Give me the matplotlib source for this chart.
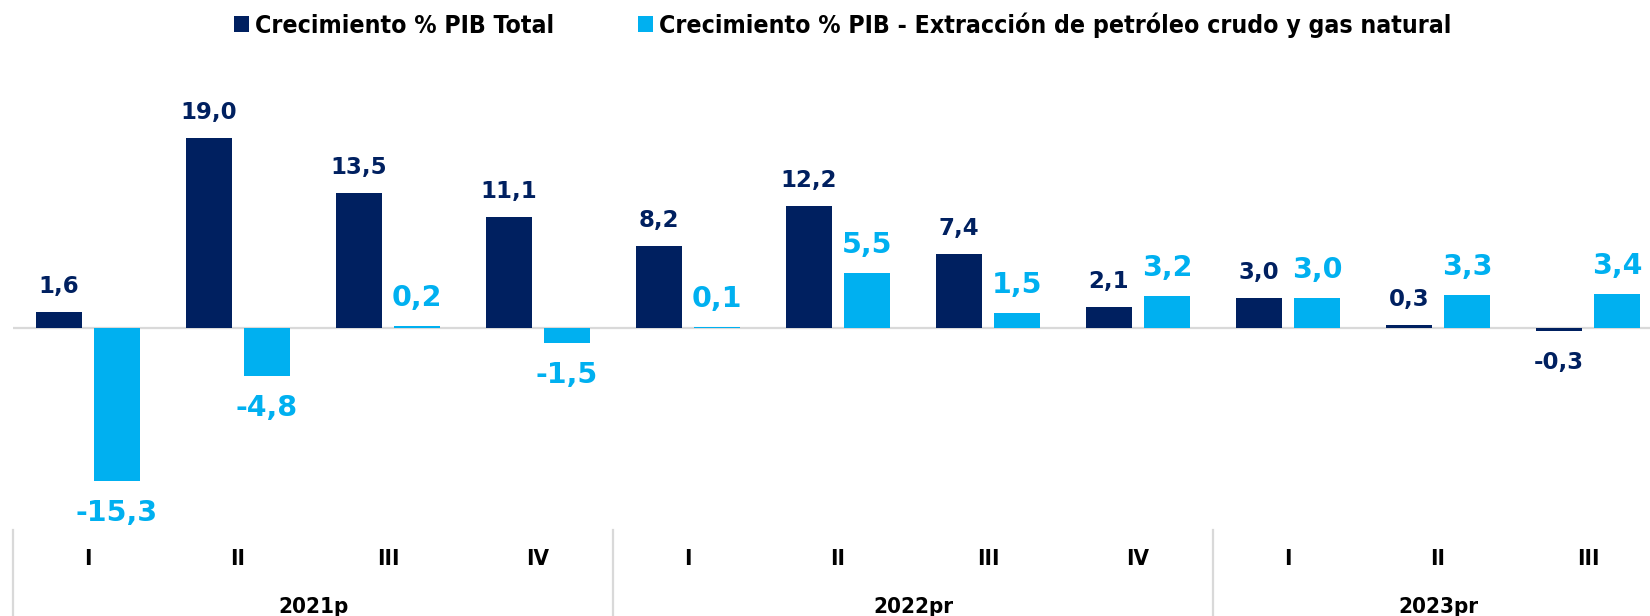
import numpy as np
import matplotlib
matplotlib.use("Agg")
import matplotlib.pyplot as plt
from matplotlib import transforms

# Datos trimestrales
trimestres = ["I", "II", "III", "IV", "I", "II", "III", "IV", "I", "II", "III"]
anios = ["2021p", "2022pr", "2023pr"]
trim_por_anio = [4, 4, 3]
pib_total = [1.6, 19.0, 13.5, 11.1, 8.2, 12.2, 7.4, 2.1, 3.0, 0.3, -0.3]
pib_petroleo = [-15.3, -4.8, 0.2, -1.5, 0.1, 5.5, 1.5, 3.2, 3.0, 3.3, 3.4]

c_total = "#002060"
c_petro = "#00B0F0"

W, H = 1650, 616
fig = plt.figure(figsize=(W / 100, H / 100), dpi=100)
ax = fig.add_axes([13 / W, (H - 530) / H, 1.0, 450 / H])

x = np.arange(len(trimestres))
off = 0.1933
bw = 46 / 150
b1 = ax.bar(x - off, pib_total, bw, color=c_total, label="Crecimiento % PIB Total")
b2 = ax.bar(x + off, pib_petroleo, bw, color=c_petro,
            label="Crecimiento % PIB - Extracción de petróleo crudo y gas natural")

ax.set_xlim(-0.5, 10.5)
ax.set_ylim(-20.2, 24.8)
ax.axhline(0, color="#D9D9D9", lw=1.6, zorder=0)

def fmt(v):
    return f"{v:.1f}".replace(".", ",")

for xi, v in zip(x - off, pib_total):
    ax.annotate(fmt(v), (xi, v), xytext=(0, 14 if v >= 0 else -20),
                textcoords="offset pixels", ha="center",
                va="bottom" if v >= 0 else "top",
                color=c_total, fontsize=16.5, fontweight="bold")
for xi, v in zip(x + off, pib_petroleo):
    ax.annotate(fmt(v), (xi, v), xytext=(0, 14 if v >= 0 else -18),
                textcoords="offset pixels", ha="center",
                va="bottom" if v >= 0 else "top",
                color=c_petro, fontsize=20.5, fontweight="bold")

for s in ax.spines.values():
    s.set_visible(False)
ax.set_yticks([])
ax.set_xticks(x)
ax.set_xticklabels(trimestres, fontsize=16, fontweight="bold", fontstretch="condensed")
ax.tick_params(axis="x", length=0, pad=14)

# etiquetas de año y separadores
trans = transforms.blended_transform_factory(ax.transData, ax.transAxes)
inicio = -0.5
for anio, n in zip(anios, trim_por_anio):
    ax.plot([inicio, inicio], [0, -0.2], transform=trans, color="#D9D9D9",
            lw=1.6, clip_on=False)
    ax.text(inicio + n / 2, -0.172, anio, transform=trans, ha="center", va="center",
            fontsize=16, fontweight="bold", fontstretch="condensed")
    inicio += n

fig.legend(handles=[b1, b2], loc="center", bbox_to_anchor=(843 / W, 1 - 25 / H),
           ncol=2, frameon=False, handlelength=0.6, handleheight=0.6,
           handletextpad=0.25, columnspacing=3.4,
           prop={"size": 17.8, "weight": "bold", "stretch": "condensed"})

fig.savefig("out.png", dpi=100)
